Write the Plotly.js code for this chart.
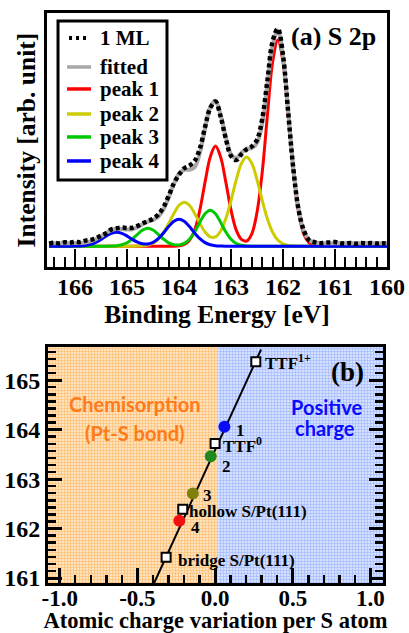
<!DOCTYPE html>
<html><head><meta charset="utf-8">
<script src="https://cdn.plot.ly/plotly-3.0.1.min.js"></script>
<style>html,body{margin:0;padding:0;background:#fff}#chart{width:409px;height:633px}</style>
</head><body><div id="chart"></div>
<script>
// ---------- Panel (a): S 2p XPS spectrum ----------
const bindingEnergy = [166.5,166.4,166.3,166.2,166.1,166.0,165.9,165.8,165.7,165.6,165.5,165.4,165.3,165.2,165.1,165.0,164.9,164.8,164.7,164.6,164.5,164.4,164.3,164.2,164.1,164.0,163.9,163.8,163.7,163.6,163.5,163.4,163.3,163.2,163.1,163.0,162.9,162.8,162.7,162.6,162.5,162.4,162.3,162.2,162.1,162.0,161.9,161.8,161.7,161.6,161.5,161.4,161.3,161.2,161.1,161.0,160.9,160.8,160.7,160.6,160.5,160.4,160.3,160.2,160.1,160.0];
const data1ML = [2.6,3.4,2.8,3.9,3.5,4.4,4.1,5.6,6.3,7.8,10.6,13.0,16.8,17.9,18.6,18.1,18.4,20.3,22.9,25.1,27.4,31.6,38.9,50.3,62.8,71.4,77.9,80.6,85.2,97.5,119.2,138.1,144.6,129.4,107.3,90.2,86.1,91.9,96.8,99.7,106.4,127.2,165.8,204.9,217.3,190.6,133.2,76.4,36.1,15.9,6.1,4.2,2.9,3.4,3.8,4.1,3.0,2.7,3.3,2.5,3.1,2.8,3.2,2.6,3.0,2.7];
const fitted = [3,3,3,3,3,3.1,3.3,3.8,4.9,6.9,9.8,13.2,16.0,17.4,17.3,16.6,16.9,19.1,22.0,24.5,26.2,29.4,36.7,48.6,62.2,72.6,76.4,76.4,79.0,93.1,117.4,138.8,145.3,131.2,108.8,91.7,88.0,93.4,97.4,98.1,103.2,122.7,161.2,201,215.2,189.4,134.8,77.2,37,15,6.5,3.8,3.1,3,3,3,3,3,3,3,3,3,3,3,3,3];
const peak1 = [0,0,0,0,0,0,0,0,0,0,0,0,0,0,0,0,0,0,0,0,0,0,0,0,0,0.4,1.7,6,16,36,64,89,100,89,64,36,16.1,6.8,5.2,12.4,34,74,131,184,206,184,131,74,34,12,3.5,0.8,0.1,0,0,0,0,0,0,0,0,0,0,0,0,0];
const peak2 = [0,0,0,0,0,0,0,0,0,0,0,0,0,0,0,0,0,0.1,0.4,1.2,3.1,6.9,13.5,22.6,32.7,40.9,44,40.9,32.7,22.8,14.3,9.3,9.3,15.2,27.6,45.8,66.2,82.7,89,82.7,66.2,45.7,27.2,14,6.2,2.4,0.8,0.2,0,0,0,0,0,0,0,0,0,0,0,0,0,0,0,0,0,0];
const peak3 = [0,0,0,0,0,0,0,0,0,0,0,0,0.1,0.4,1.4,3.4,7.1,11.9,16.2,18,16.2,11.9,7.1,3.4,1.6,1.3,2.8,6.9,14.2,23.8,32.5,36,32.5,23.8,14.2,6.9,2.7,0.9,0.2,0,0,0,0,0,0,0,0,0,0,0,0,0,0,0,0,0,0,0,0,0,0,0,0,0,0,0];
const peak4 = [0,0,0,0,0,0.1,0.3,0.8,1.9,3.9,6.8,10.2,12.9,14,12.9,10.2,6.8,4.1,2.4,2.3,3.9,7.6,13.1,19.6,24.9,27,24.9,19.6,13.1,7.5,3.6,1.5,0.5,0.2,0,0,0,0,0,0,0,0,0,0,0,0,0,0,0,0,0,0,0,0,0,0,0,0,0,0,0,0,0,0,0,0];
const energyTicks = [166,165,164,163,162,161,160];
const energyTickText = ["166","165","164","163","162","161","160"];
const seriesNames = ["1 ML","fitted","peak 1","peak 2","peak 3","peak 4"];

// ---------- Panel (b): BE vs atomic charge ----------
const refNames = ["TTF<sup>1+</sup>","TTF<sup>0</sup>","hollow S/Pt(111)","bridge S/Pt(111)"];
const refCharge = [0.262, 0.0, -0.208, -0.315];
const refBE = [165.37, 163.72, 162.39, 161.42];
const peakNames = ["1","2","3","4"];
const peakCharge = [0.06, -0.028, -0.143, -0.23];
const peakBE = [164.06, 163.46, 162.71, 162.16];
const peakColors = ["#0a0af5","#1e8a1e","#7f7f0a","#f01010"];
const fitLineCharge = [-0.392, 0.296];
const fitLineBE = [160.9, 165.62];
const chargeTicks = [-1.0,-0.5,0.0,0.5,1.0];
const chargeTickText = ["-1.0","-0.5","0.0","0.5","1.0"];
const beTicks = [161,162,163,164,165];
const beTickText = ["161","162","163","164","165"];

const serif = "Liberation Serif";
const bfont = (s, c) => ({family: serif, size: s, color: c || "#000", weight: "bold"});

const xr1 = [166.54, 160], yr1 = [-21, 233];
const xr2 = [-1.075, 1.08], yr2 = [160.9, 165.67], split = 0.02;

const seriesStyles = [
  {color:"#000", width:4.5, dash:"4px,3px"},
  {color:"#a8a8a8", width:4, dash:"solid"},
  {color:"#ff0000", width:3, dash:"solid"},
  {color:"#cccc00", width:3, dash:"solid"},
  {color:"#00c800", width:3, dash:"solid"},
  {color:"#0000ff", width:3, dash:"solid"}
];
const seriesY = [data1ML, fitted, peak1, peak2, peak3, peak4];
const drawOrder = [2,3,4,5,1,0];

const traces = [
  {x:[xr2[0],split,split,xr2[0],xr2[0]], y:[yr2[0],yr2[0],yr2[1],yr2[1],yr2[0]], xaxis:"x2", yaxis:"y2",
   mode:"lines", fill:"toself", line:{width:0}, fillcolor:"#ffdcae",
   fillpattern:{shape:"+", size:3, solidity:0.35, fgcolor:"#ffb967", bgcolor:"#ffe3bd"}, hoverinfo:"skip"},
  {x:[split,xr2[1],xr2[1],split,split], y:[yr2[0],yr2[0],yr2[1],yr2[1],yr2[0]], xaxis:"x2", yaxis:"y2",
   mode:"lines", fill:"toself", line:{width:0}, fillcolor:"#d0dcff",
   fillpattern:{shape:"+", size:3, solidity:0.35, fgcolor:"#9cb4ff", bgcolor:"#d5e0ff"}, hoverinfo:"skip"}
];
drawOrder.forEach(i => traces.push({x:bindingEnergy, y:seriesY[i], name:seriesNames[i], mode:"lines",
  line:{color:seriesStyles[i].color, width:seriesStyles[i].width, dash:seriesStyles[i].dash, shape:"spline"}}));
traces.push(
  {x:fitLineCharge, y:fitLineBE, xaxis:"x2", yaxis:"y2", mode:"lines", line:{color:"#000", width:2}},
  {x:refCharge, y:refBE, xaxis:"x2", yaxis:"y2", mode:"markers",
   marker:{symbol:"square", size:9, color:"#fff", line:{color:"#000", width:2}}},
  {x:peakCharge, y:peakBE, xaxis:"x2", yaxis:"y2", mode:"markers",
   marker:{symbol:"circle", size:12, color:peakColors, line:{width:0}}},
  // empty traces that carry the minor-tick axes
  {x:[], y:[], xaxis:"x3", yaxis:"y", mode:"lines"},
  {x:[], y:[], xaxis:"x4", yaxis:"y2", mode:"lines"},
  {x:[], y:[], xaxis:"x2", yaxis:"y3", mode:"lines"}
);

// hand-built legend box for panel (a) (paper coordinates)
const legBox = {x0:0.0324, x1:0.3529, y0:0.707, y1:0.986};
const legRowY = [0.9561, 0.9053, 0.8667, 0.8228, 0.7825, 0.7404];
const legSample = [0.0588, 0.1294], legTextX = 0.151;
const shapes = [{type:"rect", xref:"paper", yref:"paper", x0:legBox.x0, x1:legBox.x1, y0:legBox.y0, y1:legBox.y1,
  line:{color:"#000", width:3}, fillcolor:"#fff", layer:"above"}];
const annotations = [];
seriesNames.forEach((n,i) => {
  const st = seriesStyles[i];
  shapes.push({type:"line", xref:"paper", yref:"paper", x0: i===0 ? legSample[0]+0.006 : legSample[0], x1: i===0 ? legSample[1]-0.012 : legSample[1],
    y0:legRowY[i], y1:legRowY[i], layer:"above",
    line:{color:st.color, width: i===0 ? 4 : 3.5, dash: i===0 ? "3px,4px" : "solid"}});
  annotations.push({text:n, xref:"paper", yref:"paper", x:legTextX, y:legRowY[i], xanchor:"left", yanchor:"middle",
    showarrow:false, font:bfont(21)});
});

const refShift = [[7,0],[6,-2],[4,-2],[10,-3]];
const peakShift = [[10,-4],[9,-10],[8,-2],[10,-7]];
const sans = {family:"Lato", size:20, weight:"bold"};
annotations.push(
  {text:"(a) S 2p", xref:"paper", yref:"paper", x:0.713, y:0.958, xanchor:"left", yanchor:"middle", showarrow:false, font:bfont(26)},
  {text:"(b)", xref:"paper", yref:"paper", x:0.83, y:0.370, xanchor:"left", yanchor:"middle", showarrow:false, font:bfont(27)},
  {text:"Chemisorption", xref:"x2", yref:"y2", x:-0.514, y:164.52, showarrow:false, font:Object.assign({color:"#ff7a18"}, sans)},
  {text:"(Pt-S bond)", xref:"x2", yref:"y2", x:-0.514, y:163.93, showarrow:false, font:Object.assign({color:"#ff7a18"}, sans)},
  {text:"Positive", xref:"x2", yref:"y2", x:0.714, y:164.45, showarrow:false, font:Object.assign({color:"#0a0aff"}, sans)},
  {text:"charge", xref:"x2", yref:"y2", x:0.707, y:164.03, showarrow:false, font:Object.assign({color:"#0a0aff"}, sans)}
);
refNames.forEach((t,i)=>annotations.push({text:t, xref:"x2", yref:"y2", x:refCharge[i], y:refBE[i], xanchor:"left", yanchor:"middle",
  xshift:refShift[i][0], yshift:refShift[i][1], showarrow:false, font:bfont(17)}));
peakNames.forEach((t,i)=>annotations.push({text:t, xref:"x2", yref:"y2", x:peakCharge[i], y:peakBE[i], xanchor:"left", yanchor:"middle",
  xshift:peakShift[i][0], yshift:peakShift[i][1], showarrow:false, font:bfont(17)}));

const minorAxis = (extra) => Object.assign({showticklabels:false, showline:false, showgrid:false, zeroline:false,
  ticks:"inside", tickcolor:"#000"}, extra);

const layout = {
  width:409, height:633, margin:{l:47, r:22, t:13, b:50},
  paper_bgcolor:"#fff", plot_bgcolor:"#fff", showlegend:false,
  font:{family:serif, color:"#000"},
  xaxis:{domain:[0,1], anchor:"y", range:xr1, tickvals:energyTicks, ticktext:energyTickText, ticks:"inside", ticklen:18, tickwidth:2.5, tickcolor:"#000",
    showline:true, linewidth:3, linecolor:"#000", mirror:true, showgrid:false, zeroline:false, tickfont:bfont(24), ticklabelstandoff:-4,
    title:{text:"Binding Energy [eV]", font:bfont(25.5), standoff:1}},
  xaxis3:minorAxis({overlaying:"x", anchor:"y", side:"bottom", range:xr1, tick0:160, dtick:0.2, ticklen:10, tickwidth:2}),
  yaxis:{domain:[0.554,1], anchor:"x", range:yr1, showticklabels:false, ticks:"", showline:true, linewidth:3, linecolor:"#000",
    mirror:true, showgrid:false, zeroline:false, title:{text:"Intensity [arb. unit]", font:bfont(25.5), standoff:2}},
  xaxis2:{domain:[0.003,0.988], anchor:"y2", range:xr2, tickvals:chargeTicks, ticktext:chargeTickText, ticks:"inside", ticklen:15, tickwidth:3, tickcolor:"#000",
    showline:true, linewidth:3, linecolor:"#000", mirror:true, showgrid:false, zeroline:false, tickfont:bfont(23), ticklabelstandoff:-8,
    title:{text:"Atomic charge variation per S atom", font:bfont(22.5), standoff:9}},
  xaxis4:minorAxis({overlaying:"x2", anchor:"y2", side:"bottom", range:xr2, tick0:0, dtick:0.1, ticklen:8, tickwidth:2.5}),
  yaxis2:{domain:[0,0.414], anchor:"x2", range:yr2, tickvals:beTicks, ticktext:beTickText, ticks:"inside", ticklen:14, tickwidth:3, tickcolor:"#000",
    showline:true, linewidth:3, linecolor:"#000", mirror:"ticks", showgrid:false, zeroline:false, tickfont:bfont(24)},
  yaxis3:minorAxis({overlaying:"y2", anchor:"x2", side:"left", range:yr2, tick0:161, dtick:1/7, ticklen:8, tickwidth:2.5, mirror:"ticks"}),
  shapes:shapes, annotations:annotations
};
Plotly.newPlot("chart", traces, layout, {displayModeBar:false, staticPlot:true});
</script></body></html>
